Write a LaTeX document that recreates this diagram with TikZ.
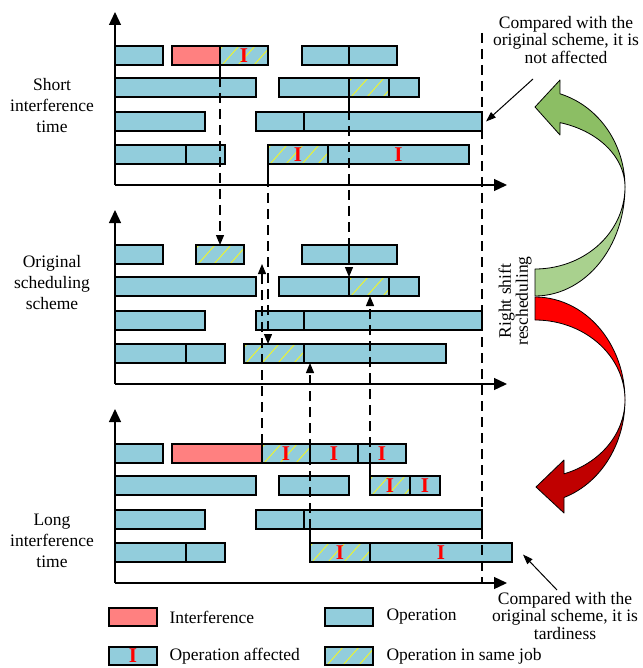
\documentclass[tikz,border=0pt]{standalone}
\usepackage{fontspec}
\setmainfont{Liberation Serif}
\usetikzlibrary{arrows.meta}
\definecolor{opblue}{RGB}{146,205,220}
\definecolor{intred}{RGB}{255,128,128}
\definecolor{hatchy}{RGB}{240,245,40}
\definecolor{gdark}{RGB}{140,190,100}
\definecolor{glight}{RGB}{169,209,142}
\definecolor{rlight}{RGB}{255,0,0}
\definecolor{rdark}{RGB}{192,0,0}
\newcommand\Imark{\textcolor{red}{\fontsize{21}{21}\selectfont\bfseries I}}
\newcommand\gb[6]{\node[#5, minimum width={(#3-#2)*1pt}] (#1) at (#2,#4) {#6};}
\tikzset{
  bx/.style={draw=black, line width=1.3pt, fill=opblue, inner sep=0pt, outer sep=0pt,
    anchor=north west, minimum height=19pt},
  intf/.style={bx, fill=intred},
  hat/.style={bx, path picture={\foreach \k in {-2,...,4}{
      \draw[hatchy, line width=0.9pt] ([xshift=\k*16pt+2pt]path picture bounding box.south west) -- ++(17,-19);}}},
  axisline/.style={line width=1.3pt, -{Triangle[length=13pt,width=12pt]}},
  conn/.style={line width=1.2pt, dash pattern=on 10pt off 6pt},
  connsolid/.style={line width=1.2pt},
  tipc/.style={-{Triangle[length=10pt,width=8pt]}},
  callout/.style={line width=1pt, -{Triangle[length=10pt,width=7pt]}},
  lbl/.style={align=center, font=\fontsize{17.5}{21}\selectfont},
  cmp/.style={align=center, font=\fontsize{17.5}{17.5}\selectfont},
  leg/.style={anchor=west, font=\fontsize{17.5}{21}\selectfont},
  ribbon/.style={draw=black, line width=0.8pt, line join=round}
}
\begin{document}
\begin{tikzpicture}[x=1pt, y=-1pt, font=\fontsize{17.5}{21}\selectfont]
\useasboundingbox (0,0) rectangle (642,668);

% ---------- axes ----------
\foreach \Y/\T in {185/12, 384/210, 583/409}{
  \draw[axisline] (115,\Y) -- (115,\T);
  \draw[axisline] (115,\Y) -- (507,\Y);
}

% ---------- top panel: short interference ----------
\gb{t1a}{115}{163}{46}{bx}{}
\gb{t1b}{172}{220}{46}{intf}{}
\gb{t1c}{220}{268}{46}{hat}{\Imark}
\gb{t1d}{302}{349}{46}{bx}{}
\gb{t1e}{349}{397}{46}{bx}{}
\gb{t2a}{115}{256}{78}{bx}{}
\gb{t2b}{279}{349}{78}{bx}{}
\gb{t2c}{349}{389}{78}{hat}{}
\gb{t2d}{389}{419}{78}{bx}{}
\gb{t3a}{115}{205}{112}{bx}{}
\gb{t3b}{256}{304}{112}{bx}{}
\gb{t3c}{304}{482}{112}{bx}{}
\gb{t4a}{115}{186}{145}{bx}{}
\gb{t4b}{186}{225}{145}{bx}{}
\gb{t4c}{268}{328}{145}{hat}{\Imark}
\gb{t4d}{328}{469}{145}{bx}{\Imark}

% ---------- middle panel: original ----------
\gb{m1a}{115}{163}{245}{bx}{}
\gb{m1b}{196}{244}{245}{hat}{}
\gb{m1c}{302}{349}{245}{bx}{}
\gb{m1d}{349}{397}{245}{bx}{}
\gb{m2a}{115}{256}{277}{bx}{}
\gb{m2b}{279}{349}{277}{bx}{}
\gb{m2c}{349}{389}{277}{hat}{}
\gb{m2d}{389}{419}{277}{bx}{}
\gb{m3a}{115}{205}{311}{bx}{}
\gb{m3b}{256}{304}{311}{bx}{}
\gb{m3c}{304}{482}{311}{bx}{}
\gb{m4a}{115}{186}{344}{bx}{}
\gb{m4b}{186}{225}{344}{bx}{}
\gb{m4c}{244}{304}{344}{hat}{}
\gb{m4d}{304}{446}{344}{bx}{}

% ---------- bottom panel: long interference ----------
\gb{b1a}{115}{163}{444}{bx}{}
\gb{b1b}{172}{262}{444}{intf}{}
\gb{b1c}{262}{310}{444}{hat}{\Imark}
\gb{b1d}{310}{358}{444}{bx}{\Imark}
\gb{b1e}{358}{406}{444}{bx}{\Imark}
\gb{b2a}{115}{256}{476}{bx}{}
\gb{b2b}{279}{349}{476}{bx}{}
\gb{b2c}{370}{410}{476}{hat}{\Imark}
\gb{b2d}{410}{440}{476}{bx}{\Imark}
\gb{b3a}{115}{205}{510}{bx}{}
\gb{b3b}{256}{304}{510}{bx}{}
\gb{b3c}{304}{482}{510}{bx}{}
\gb{b4a}{115}{186}{543}{bx}{}
\gb{b4b}{186}{225}{543}{bx}{}
\gb{b4c}{310}{370}{543}{hat}{\Imark}
\gb{b4d}{370}{512}{543}{bx}{\Imark}

% ---------- connectors ----------
\draw[connsolid] (t1c.south west) -- ([yshift=-12pt]t1c.south west);
\draw[conn,tipc] ([yshift=-12pt]t1c.south west) -- (m1b.north);
\draw[connsolid] (t4c.south west) -- ([yshift=-13pt]t4c.south west);
\draw[conn,tipc] ([yshift=-13pt]t4c.south west) -- (t4c.south west |- m4c.north);
\draw[connsolid] (t2c.south west) -- ([yshift=-13pt]t2c.south west);
\draw[conn,tipc] ([yshift=-13pt]t2c.south west) -- (m2c.north west);
\coordinate (dtop) at (482,33);
\coordinate (dbot) at (482,583);
\draw[conn] (dtop) -- (dbot);
\draw[conn,tipc] (b1c.north west) -- (b1c.north west |- m1b.south);
\draw[connsolid] (b4c.north west) -- ([yshift=14pt]b4c.north west);
\draw[conn,tipc] ([yshift=14pt]b4c.north west) -- (b4c.north west |- m4d.south);
\draw[connsolid] (b2c.north west) -- ([yshift=13pt]b2c.north west);
\draw[conn,tipc] ([yshift=13pt]b2c.north west) -- (b2c.north west |- m2c.south);

% ---------- side labels ----------
\node[lbl] (lshort) at (52,106) {Short\\interference\\time};
\node[lbl] (lorig) at (52,283) {Original\\scheduling\\scheme};
\node[lbl] (llong) at (52,541) {Long\\interference\\time};

\node[cmp] (ctop) at (566,40) {Compared with the\\original scheme, it is\\not affected};
\node[cmp] (cbot) at (565,616) {Compared with the\\original scheme, it is\\tardiness};
\coordinate (ca1) at (533,79);
\coordinate (ca2) at (557,590);
\draw[callout] (ca1) -- ([xshift=4pt]t3c.east);
\draw[callout] (ca2) -- ([xshift=11pt,yshift=-2pt]b4d.east);

% ---------- curved arrows ----------
\filldraw[ribbon, fill=glight] (625,187)
  -- plot[variable=\t, domain=0:-90, samples=30] ({535+90*cos(\t)},{187-109*sin(\t)})
  -- (535,269)
  -- plot[variable=\t, domain=-90:0, samples=30] ({535+90*cos(\t)},{187-82*sin(\t)}) -- cycle;
\filldraw[ribbon, fill=gdark] (625,187)
  -- plot[variable=\t, domain=0:73.9, samples=30] ({535+90*cos(\t)},{187-97*sin(\t)})
  -- (560,80) -- (535,107) -- (560,135) -- (560,123)
  -- plot[variable=\t, domain=73.9:0, samples=30] ({535+90*cos(\t)},{187-67*sin(\t)}) -- cycle;
\filldraw[ribbon, fill=rlight] (625,400)
  -- plot[variable=\t, domain=0:90, samples=30] ({535+90*cos(\t)},{400-103*sin(\t)})
  -- (535,320)
  -- plot[variable=\t, domain=90:0, samples=30] ({535+90*cos(\t)},{400-80*sin(\t)}) -- cycle;
\filldraw[ribbon, fill=rdark] (625,400)
  -- plot[variable=\t, domain=0:-71.2, samples=30] ({535+90*cos(\t)},{400-103*sin(\t)})
  -- (564,513) -- (536,487) -- (564,460)
  -- plot[variable=\t, domain=-71.2:0, samples=30] ({535+90*cos(\t)},{400-78*sin(\t)}) -- cycle;
\node[rotate=90, align=center, font=\fontsize{17.5}{17}\selectfont] (rs) at (515,301) {Right shift\\rescheduling};

% ---------- legend ----------
\node[intf, minimum width=48pt, minimum height=18pt] (lg1) at (109,608) {};
\node[leg] (lt1) at (166,617) {Interference};
\node[bx, minimum width=48pt, minimum height=18pt] (lg2) at (325,608) {};
\node[leg] (lt2) at (383,617) {Operation};
\node[bx, minimum width=48pt, minimum height=18pt] (lg3) at (109,647) {\Imark};
\node[leg] (lt3) at (166,656) {Operation affected};
\node[hat, minimum width=48pt, minimum height=18pt] (lg4) at (325,647) {};
\node[leg] (lt4) at (383,656) {Operation in same job};
\end{tikzpicture}
\end{document}
